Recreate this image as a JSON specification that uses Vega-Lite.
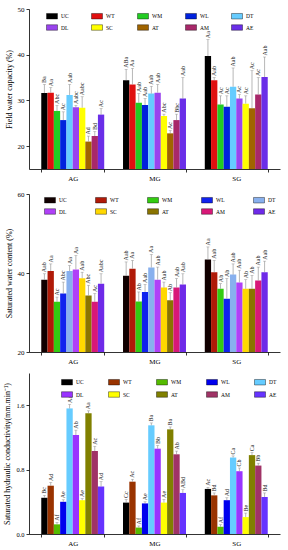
{
"$schema":"https://vega.github.io/schema/vega-lite/v6.json",
"padding":{"left":3,"top":5,"right":3,"bottom":2},
"spacing":9,
"config":{"font":"Liberation Serif","view":{"stroke":null},"axis":{"labelFont":"Liberation Serif","titleFont":"Liberation Serif","domainColor":"#000","tickColor":"#000","labelColor":"#000","titleColor":"#000","grid":false,"titleFontWeight":"normal","domainWidth":0.8,"tickWidth":0.8,"labelOverlap":false},"legend":{"labelFont":"Liberation Serif"}},
"resolve":{"scale":{"color":"independent","y":"independent"}},
"vconcat":[
{"width":251,"height":160,
"data":{"values":[
{"g":"AG","t":"UC","v":31.6,"u":33.5,"l":"Ba"},{"g":"AG","t":"WT","v":31.7,"u":32.8,"l":"Aa"},{"g":"AG","t":"WM","v":27.7,"u":28.9,"l":"Abc"},{"g":"AG","t":"WL","v":25.7,"u":27.5,"l":"Ac"},{"g":"AG","t":"DT","v":31.2,"u":33.5,"l":"Aab"},{"g":"AG","t":"DL","v":28.5,"u":28.9,"l":"Aabc"},{"g":"AG","t":"SC","v":28.4,"u":30.8,"l":"Aabc"},{"g":"AG","t":"AT","v":21.0,"u":22.2,"l":"Ad"},{"g":"AG","t":"AM","v":22.2,"u":23.2,"l":"Bd"},{"g":"AG","t":"AE","v":26.9,"u":28.2,"l":"Ac"},
{"g":"MG","t":"UC","v":34.4,"u":36.8,"l":"ABa"},{"g":"MG","t":"WT","v":33.5,"u":37.0,"l":"Aa"},{"g":"MG","t":"WM","v":29.5,"u":31.5,"l":"Aab"},{"g":"MG","t":"WL","v":29.0,"u":30.4,"l":"Aab"},{"g":"MG","t":"DT","v":31.5,"u":33.1,"l":"Aab"},{"g":"MG","t":"DL","v":31.7,"u":33.5,"l":"Aab"},{"g":"MG","t":"SC","v":26.6,"u":27.0,"l":"Abc"},{"g":"MG","t":"AT","v":22.8,"u":23.4,"l":"Ac"},{"g":"MG","t":"AM","v":25.7,"u":27.0,"l":"Bbc"},{"g":"MG","t":"AE","v":30.4,"u":35.0,"l":"Aab"},
{"g":"SG","t":"UC","v":39.7,"u":43.3,"l":"Aa"},{"g":"SG","t":"WT","v":34.4,"u":35.0,"l":"Aab"},{"g":"SG","t":"WM","v":29.1,"u":31.0,"l":"Ac"},{"g":"SG","t":"WL","v":28.6,"u":31.0,"l":"Ac"},{"g":"SG","t":"DT","v":33.0,"u":37.1,"l":"Aab"},{"g":"SG","t":"DL","v":30.4,"u":31.3,"l":"Ac"},{"g":"SG","t":"SC","v":29.3,"u":31.0,"l":"Ac"},{"g":"SG","t":"AT","v":28.3,"u":36.5,"l":"Ac"},{"g":"SG","t":"AM","v":31.3,"u":35.0,"l":"Ac"},{"g":"SG","t":"AE","v":35.1,"u":39.5,"l":"Aab"}
]},
"encoding":{
"x":{"field":"g","type":"nominal","sort":["AG","MG","SG"],"scale":{"paddingInner":0.23,"paddingOuter":0.15},"axis":{"title":null,"labelAngle":0,"labelFontSize":7,"tickBand":"extent","tickSize":3,"labelPadding":2}},
"xOffset":{"field":"t","type":"nominal","sort":["UC","WT","WM","WL","DT","DL","SC","AT","AM","AE"],"scale":{"paddingInner":0,"paddingOuter":0}}},
"layer":[
{"mark":{"type":"bar","clip":true},"encoding":{"y":{"field":"v","type":"quantitative","scale":{"domain":[15,50],"nice":false,"zero":false},"axis":{"title":"Field water capacity (%)","values":[20,30,40,50],"labelFontSize":7,"titleFontSize":8,"tickSize":3,"labelPadding":2,"titlePadding":4}},
"color":{"field":"t","type":"nominal","sort":["UC","WT","WM","WL","DT","DL","SC","AT","AM","AE"],"scale":{"range":["#000000","#e01010","#22cc22","#0022dd","#66ccff","#9944ee","#ffff00","#a06400","#a8286a","#6a2ee8"]},
"legend":{"orient":"none","legendX":17,"legendY":1,"direction":"horizontal","columns":5,"title":null,"symbolType":"M-1,-0.5H1V0.5H-1Z","symbolSize":121,"symbolStrokeColor":"#000","symbolStrokeWidth":0.4,"labelFontSize":5.5,"columnPadding":21,"rowPadding":1.5,"labelOffset":3,"padding":0}}}},
{"mark":{"type":"rule","color":"#888","strokeWidth":0.6},"encoding":{"y":{"field":"v","type":"quantitative"},"y2":{"field":"u"}}},
{"mark":{"type":"tick","color":"#888","thickness":0.6,"size":3},"encoding":{"y":{"field":"u","type":"quantitative"}}},
{"mark":{"type":"text","angle":270,"align":"left","baseline":"middle","dx":1.5,"fontSize":6,"color":"#222"},"encoding":{"y":{"field":"u","type":"quantitative"},"text":{"field":"l"}}}
]},
{"width":251,"height":158,
"data":{"values":[
{"g":"AG","t":"UC","v":38.3,"u":39.8,"l":"Aab"},{"g":"AG","t":"WT","v":40.5,"u":42.3,"l":"Aa"},{"g":"AG","t":"WM","v":32.7,"u":33.9,"l":"Ac"},{"g":"AG","t":"WL","v":34.8,"u":37.7,"l":"Abc"},{"g":"AG","t":"DT","v":40.5,"u":41.9,"l":"Aa"},{"g":"AG","t":"DL","v":40.9,"u":44.4,"l":"Aa"},{"g":"AG","t":"SC","v":38.7,"u":40.2,"l":"Aab"},{"g":"AG","t":"AT","v":34.3,"u":36.9,"l":"Abc"},{"g":"AG","t":"AM","v":32.7,"u":34.8,"l":"Ac"},{"g":"AG","t":"AE","v":37.3,"u":39.8,"l":"Aabc"},
{"g":"MG","t":"UC","v":39.3,"u":42.8,"l":"Aab"},{"g":"MG","t":"WT","v":41.1,"u":43.2,"l":"Aa"},{"g":"MG","t":"WM","v":32.8,"u":35.2,"l":"Ab"},{"g":"MG","t":"WL","v":35.2,"u":37.1,"l":"Aab"},{"g":"MG","t":"DT","v":41.4,"u":44.7,"l":"Aa"},{"g":"MG","t":"DL","v":38.3,"u":41.5,"l":"Aab"},{"g":"MG","t":"SC","v":36.3,"u":37.7,"l":"Aab"},{"g":"MG","t":"AT","v":33.1,"u":35.0,"l":"Ab"},{"g":"MG","t":"AM","v":36.3,"u":38.6,"l":"Aab"},{"g":"MG","t":"AE","v":37.1,"u":39.8,"l":"Aab"},
{"g":"SG","t":"UC","v":43.4,"u":46.6,"l":"Aa"},{"g":"SG","t":"WT","v":40.2,"u":43.2,"l":"Aab"},{"g":"SG","t":"WM","v":36.0,"u":37.3,"l":"Ab"},{"g":"SG","t":"WL","v":33.5,"u":38.6,"l":"Ab"},{"g":"SG","t":"DT","v":39.6,"u":42.3,"l":"Aab"},{"g":"SG","t":"DL","v":37.6,"u":40.7,"l":"Aab"},{"g":"SG","t":"SC","v":36.0,"u":38.3,"l":"Ab"},{"g":"SG","t":"AT","v":36.0,"u":39.4,"l":"Ab"},{"g":"SG","t":"AM","v":38.1,"u":41.5,"l":"Aab"},{"g":"SG","t":"AE","v":40.2,"u":43.0,"l":"Aab"}
]},
"encoding":{
"x":{"field":"g","type":"nominal","sort":["AG","MG","SG"],"scale":{"paddingInner":0.23,"paddingOuter":0.15},"axis":{"title":null,"labelAngle":0,"labelFontSize":7,"tickBand":"extent","tickSize":3,"labelPadding":2}},
"xOffset":{"field":"t","type":"nominal","sort":["UC","WT","WM","WL","DT","DL","SC","AT","AM","AE"],"scale":{"paddingInner":0,"paddingOuter":0}}},
"layer":[
{"mark":{"type":"bar","clip":true},"encoding":{"y":{"field":"v","type":"quantitative","scale":{"domain":[20,60],"nice":false,"zero":false},"axis":{"title":"Saturated water content (%)","values":[20,30,40,50,60],"labelFontSize":7,"titleFontSize":8,"tickSize":3,"labelPadding":2,"titlePadding":4}},
"color":{"field":"t","type":"nominal","sort":["UC","WT","WM","WL","DT","DL","SC","AT","AM","AE"],"scale":{"range":["#110000","#b01a08","#33cc11","#1022ee","#88b0ee","#b040f8","#ffd800","#8a7400","#d81878","#6e2ae8"]},
"legend":{"orient":"none","legendX":15,"legendY":0,"direction":"horizontal","columns":5,"title":null,"symbolType":"M-1,-0.5H1V0.5H-1Z","symbolSize":121,"symbolStrokeColor":"#000","symbolStrokeWidth":0.4,"labelFontSize":5.5,"columnPadding":27,"rowPadding":1.5,"labelOffset":3,"padding":0}}}},
{"mark":{"type":"rule","color":"#888","strokeWidth":0.6},"encoding":{"y":{"field":"v","type":"quantitative"},"y2":{"field":"u"}}},
{"mark":{"type":"tick","color":"#888","thickness":0.6,"size":3},"encoding":{"y":{"field":"u","type":"quantitative"}}},
{"mark":{"type":"text","angle":270,"align":"left","baseline":"middle","dx":1.5,"fontSize":6,"color":"#222"},"encoding":{"y":{"field":"u","type":"quantitative"},"text":{"field":"l"}}}
]},
{"width":251,"height":161,
"data":{"values":[
{"g":"AG","t":"UC","v":0.45,"u":0.48,"l":"Bc"},{"g":"AG","t":"WT","v":0.60,"u":0.64,"l":"Ad"},{"g":"AG","t":"WM","v":0.12,"u":0.145,"l":"Af"},{"g":"AG","t":"WL","v":0.40,"u":0.425,"l":"Ae"},{"g":"AG","t":"DT","v":1.56,"u":1.61,"l":"Aa"},{"g":"AG","t":"DL","v":1.23,"u":1.29,"l":"Ab"},{"g":"AG","t":"SC","v":0.42,"u":0.44,"l":"Ae"},{"g":"AG","t":"AT","v":1.50,"u":1.53,"l":"Aa"},{"g":"AG","t":"AM","v":1.03,"u":1.09,"l":"Ac"},{"g":"AG","t":"AE","v":0.59,"u":0.65,"l":"Ad"},
{"g":"MG","t":"UC","v":0.39,"u":0.43,"l":"Cc"},{"g":"MG","t":"WT","v":0.65,"u":0.68,"l":"Ac"},{"g":"MG","t":"WM","v":0.08,"u":0.10,"l":"Af"},{"g":"MG","t":"WL","v":0.38,"u":0.40,"l":"Ae"},{"g":"MG","t":"DT","v":1.35,"u":1.38,"l":"Ba"},{"g":"MG","t":"DL","v":1.06,"u":1.10,"l":"Bb"},{"g":"MG","t":"SC","v":0.39,"u":0.43,"l":"Ae"},{"g":"MG","t":"AT","v":1.30,"u":1.33,"l":"Ba"},{"g":"MG","t":"AM","v":0.99,"u":1.03,"l":"Ab"},{"g":"MG","t":"AE","v":0.51,"u":0.55,"l":"ABd"},
{"g":"SG","t":"UC","v":0.56,"u":0.58,"l":"Ac"},{"g":"SG","t":"WT","v":0.48,"u":0.51,"l":"Bd"},{"g":"SG","t":"WM","v":0.09,"u":0.115,"l":"Af"},{"g":"SG","t":"WL","v":0.42,"u":0.45,"l":"Ad"},{"g":"SG","t":"DT","v":0.95,"u":0.97,"l":"Ca"},{"g":"SG","t":"DL","v":0.78,"u":0.82,"l":"Cb"},{"g":"SG","t":"SC","v":0.21,"u":0.26,"l":"Be"},{"g":"SG","t":"AT","v":0.98,"u":1.01,"l":"Ca"},{"g":"SG","t":"AM","v":0.85,"u":0.88,"l":"Bb"},{"g":"SG","t":"AE","v":0.46,"u":0.51,"l":"Bd"}
]},
"encoding":{
"x":{"field":"g","type":"nominal","sort":["AG","MG","SG"],"scale":{"paddingInner":0.23,"paddingOuter":0.15},"axis":{"title":null,"labelAngle":0,"labelFontSize":7,"tickBand":"extent","tickSize":3,"labelPadding":2}},
"xOffset":{"field":"t","type":"nominal","sort":["UC","WT","WM","WL","DT","DL","SC","AT","AM","AE"],"scale":{"paddingInner":0,"paddingOuter":0}}},
"layer":[
{"mark":{"type":"bar","clip":true},"encoding":{"y":{"field":"v","type":"quantitative","scale":{"domain":[0,2],"nice":false},"axis":{"title":"Saturated hydraulic conductivity(mm.min⁻¹)","values":[0,0.2,0.4,0.6,0.8,1.0,1.2,1.4,1.6,1.8,2.0],"format":".1f","labelFontSize":6.5,"titleFontSize":8,"tickSize":3,"labelPadding":2,"titlePadding":4}},
"color":{"field":"t","type":"nominal","sort":["UC","WT","WM","WL","DT","DL","SC","AT","AM","AE"],"scale":{"range":["#000000","#993300","#55bb00","#0000ee","#66ccff","#9933ff","#ffff00","#808000","#a03366","#6633ff"]},
"legend":{"orient":"none","legendX":32,"legendY":3,"direction":"horizontal","columns":5,"title":null,"symbolType":"M-1,-0.5H1V0.5H-1Z","symbolSize":121,"symbolStrokeColor":"#000","symbolStrokeWidth":0.4,"labelFontSize":5.5,"columnPadding":23,"rowPadding":2.5,"labelOffset":3,"padding":0}}}},
{"mark":{"type":"rule","color":"#888","strokeWidth":0.6},"encoding":{"y":{"field":"v","type":"quantitative"},"y2":{"field":"u"}}},
{"mark":{"type":"tick","color":"#888","thickness":0.6,"size":3},"encoding":{"y":{"field":"u","type":"quantitative"}}},
{"mark":{"type":"text","angle":270,"align":"left","baseline":"middle","dx":1.5,"fontSize":6,"color":"#222"},"encoding":{"y":{"field":"u","type":"quantitative"},"text":{"field":"l"}}}
]}
]}
